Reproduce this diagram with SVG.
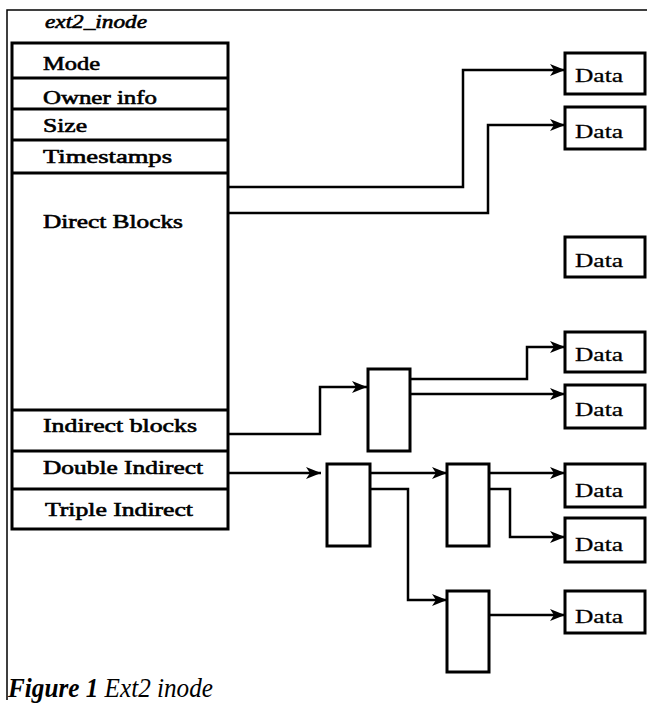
<svg xmlns="http://www.w3.org/2000/svg" width="647" height="708" viewBox="0 0 647 708">
  <style>
    .lbl { font-family: "Liberation Serif", "DejaVu Serif", serif; font-size: 19px; fill: #000; stroke: #000; stroke-width: 0.6; }
    .dat { font-family: "Liberation Serif", "DejaVu Serif", serif; font-size: 19px; fill: #000; stroke: #000; stroke-width: 0.3; }
    .box { fill: #fff; stroke: #000; stroke-width: 3; }
    .sep { stroke: #000; stroke-width: 3; }
    .wire { fill: none; stroke: #000; stroke-width: 2.5; stroke-linejoin: miter; }
    .frame { stroke: #000; stroke-width: 1.5; fill: none; }
    .cap { font-family: "Liberation Serif", "DejaVu Serif", serif; font-size: 27px; font-style: italic; fill: #000; }
  </style>
  <defs>
    <marker id="arrow" markerUnits="userSpaceOnUse" markerWidth="18" markerHeight="14" refX="15" refY="7" orient="auto">
      <path d="M0,1 L15,7 L0,13 L4,7 z" fill="#000"/>
    </marker>
  </defs>

  <rect width="647" height="708" fill="#fff"/>

  <!-- page frame -->
  <path class="frame" d="M7,700 V10 H647"/>

  <!-- inode table -->
  <g id="inode">
    <text class="lbl" x="45" y="28" font-style="italic" font-size="16" textLength="102" lengthAdjust="spacingAndGlyphs">ext2_inode</text>
    <rect class="box" x="12" y="43" width="216" height="486"/>
    <line class="sep" x1="12" y1="78" x2="228" y2="78"/>
    <line class="sep" x1="12" y1="109" x2="228" y2="109"/>
    <line class="sep" x1="12" y1="140" x2="228" y2="140"/>
    <line class="sep" x1="12" y1="173" x2="228" y2="173"/>
    <line class="sep" x1="12" y1="410" x2="228" y2="410"/>
    <line class="sep" x1="12" y1="451" x2="228" y2="451"/>
    <line class="sep" x1="12" y1="489" x2="228" y2="489"/>
    <text class="lbl" x="43" y="70" textLength="57" lengthAdjust="spacingAndGlyphs">Mode</text>
    <text class="lbl" x="43" y="104" textLength="114" lengthAdjust="spacingAndGlyphs">Owner info</text>
    <text class="lbl" x="43" y="132" textLength="44" lengthAdjust="spacingAndGlyphs">Size</text>
    <text class="lbl" x="43" y="163" textLength="129" lengthAdjust="spacingAndGlyphs">Timestamps</text>
    <text class="lbl" x="43" y="228" textLength="140" lengthAdjust="spacingAndGlyphs">Direct Blocks</text>
    <text class="lbl" x="43" y="432" textLength="154" lengthAdjust="spacingAndGlyphs">Indirect blocks</text>
    <text class="lbl" x="43" y="474" textLength="160" lengthAdjust="spacingAndGlyphs">Double Indirect</text>
    <text class="lbl" x="45" y="516" textLength="148" lengthAdjust="spacingAndGlyphs">Triple Indirect</text>
  </g>

  <!-- pointer blocks -->
  <g id="ind1"><rect class="box" x="368" y="369" width="42" height="82"/></g>
  <g id="dind1"><rect class="box" x="327" y="464" width="43" height="82"/></g>
  <g id="dind2"><rect class="box" x="447" y="464" width="42" height="82"/></g>
  <g id="dind3"><rect class="box" x="447" y="591" width="42" height="81"/></g>

  <!-- data blocks -->
  <g id="data1"><rect class="box" x="565" y="53" width="80" height="41"/><text class="dat" x="575" y="82" textLength="48" lengthAdjust="spacingAndGlyphs">Data</text></g>
  <g id="data2"><rect class="box" x="565" y="107" width="80" height="42"/><text class="dat" x="575" y="138" textLength="48" lengthAdjust="spacingAndGlyphs">Data</text></g>
  <g id="data3"><rect class="box" x="565" y="237" width="80" height="40"/><text class="dat" x="575" y="267" textLength="48" lengthAdjust="spacingAndGlyphs">Data</text></g>
  <g id="data4"><rect class="box" x="565" y="332" width="80" height="40"/><text class="dat" x="575" y="361" textLength="48" lengthAdjust="spacingAndGlyphs">Data</text></g>
  <g id="data5"><rect class="box" x="565" y="385" width="80" height="43"/><text class="dat" x="575" y="416" textLength="48" lengthAdjust="spacingAndGlyphs">Data</text></g>
  <g id="data6"><rect class="box" x="565" y="464" width="80" height="43"/><text class="dat" x="575" y="497" textLength="48" lengthAdjust="spacingAndGlyphs">Data</text></g>
  <g id="data7"><rect class="box" x="565" y="518" width="80" height="44"/><text class="dat" x="575" y="551" textLength="48" lengthAdjust="spacingAndGlyphs">Data</text></g>
  <g id="data8"><rect class="box" x="565" y="591" width="80" height="42"/><text class="dat" x="575" y="623" textLength="48" lengthAdjust="spacingAndGlyphs">Data</text></g>

  <!-- connectors -->
  <g id="connectors">
    <path class="wire" marker-end="url(#arrow)" d="M228,187 H463 V70 H565"/>
    <path class="wire" marker-end="url(#arrow)" d="M228,213 H488 V125 H565"/>
    <path class="wire" marker-end="url(#arrow)" d="M228,434 H320 V387 H367"/>
    <path class="wire" marker-end="url(#arrow)" d="M410,379 H527 V347 H565"/>
    <path class="wire" marker-end="url(#arrow)" d="M410,394 H565"/>
    <path class="wire" marker-end="url(#arrow)" d="M228,473 H321"/>
    <path class="wire" marker-end="url(#arrow)" d="M370,473 H447"/>
    <path class="wire" marker-end="url(#arrow)" d="M370,489 H408 V600 H447"/>
    <path class="wire" marker-end="url(#arrow)" d="M489,473 H565"/>
    <path class="wire" marker-end="url(#arrow)" d="M489,489 H510 V537 H565"/>
    <path class="wire" marker-end="url(#arrow)" d="M489,615 H565"/>
  </g>

  <!-- caption -->
  <text class="cap" x="8" y="697" textLength="205" lengthAdjust="spacingAndGlyphs"><tspan font-weight="bold">Figure 1</tspan> Ext2 inode</text>
</svg>
